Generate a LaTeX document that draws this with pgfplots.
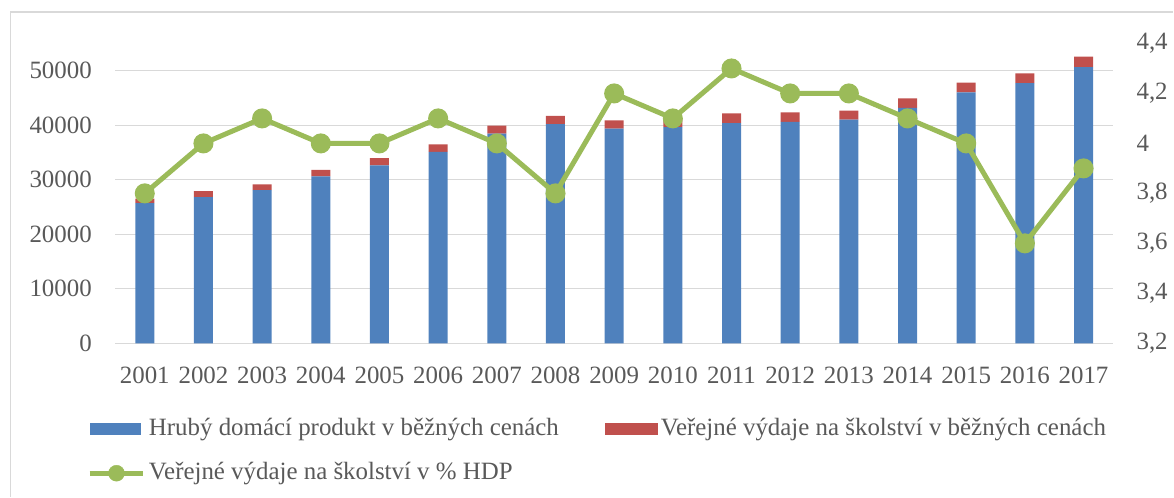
\documentclass[border=0pt]{standalone}
\usepackage{pgfplots}
\pgfplotsset{compat=1.18}
\usepackage{fontspec}
\setmainfont{Liberation Serif}
\definecolor{txt}{HTML}{595959}
\definecolor{cblue}{HTML}{4F81BD}
\definecolor{cred}{HTML}{C0504D}
\definecolor{cgreen}{HTML}{9BBB59}
\definecolor{cgrid}{HTML}{D9D9D9}
\pgfplotstableread{
x gdp edu
0 25700 850
1 26800 1100
2 28080 1090
3 30630 1200
4 32630 1330
5 35110 1400
6 38460 1450
7 40210 1530
8 39370 1510
9 39660 1590
10 40390 1770
11 40640 1700
12 41010 1690
13 43190 1750
14 46040 1760
15 47740 1760
16 50660 1930
}\bars
\pgfplotstableread{
x pct
0 3.8
1 4.0
2 4.1
3 4.0
4 4.0
5 4.1
6 4.0
7 3.8
8 4.2
9 4.1
10 4.3
11 4.2
12 4.2
13 4.1
14 4.0
15 3.6
16 3.9
}\line
\begin{document}
\begin{tikzpicture}[x=1bp,y=1bp]
\path (0,0) rectangle (1174,497);
\draw[cgrid, line width=1.3bp] (10.5,0) -- (10.5,485) -- (1174,485);
\begin{axis}[
  at={(115.5bp,153.5bp)}, anchor=south west, scale only axis,
  width=998bp, height=300bp,
  xmin=-0.5, xmax=16.5, ymin=0, ymax=55000,
  ytick={0,10000,20000,30000,40000,50000},
  xtick={0,...,16},
  xticklabels={2001,2002,2003,2004,2005,2006,2007,2008,2009,2010,2011,2012,2013,2014,2015,2016,2017},
  axis line style={draw=none}, major tick length=0pt,
  ymajorgrids, grid style={cgrid, line width=1.3bp},
  ybar stacked, bar width=19bp,
  scaled y ticks=false,
  tick label style={font=\fontsize{25}{25}\selectfont, text=txt, inner sep=0pt},
  yticklabel style={/pgf/number format/assume math mode=true, /pgf/number format/1000 sep={}, anchor=east, xshift=-23.5bp},
  xticklabel style={anchor=north, yshift=-23bp},
  legend columns=2,
  legend cell align=left,
  legend style={draw=none, fill=none, inner sep=0pt, outer sep=0pt,
    at={(-0.0285,-0.25)}, anchor=north west,
    font=\fontsize{25}{25}\selectfont, text=txt,
    nodes={inner sep=0pt, text depth=5bp, text height=17bp},
    /tikz/every odd column/.append style={column sep=3bp},
    /tikz/every even column/.append style={column sep=46bp},
    row sep=22bp},
]
\addplot[fill=cblue, draw=none, legend image code/.code={\fill[cblue] (0bp,-6bp) rectangle (52bp,6bp);}] table[x=x, y=gdp] {\bars};
\addlegendentry{Hrubý domácí produkt v běžných cenách}
\addplot[fill=cred, draw=none, legend image code/.code={\fill[cred] (0bp,-6bp) rectangle (53bp,6bp);}] table[x=x, y=edu] {\bars};
\addlegendentry{Veřejné výdaje na školství v běžných cenách}
\addlegendimage{legend image code/.code={\draw[cgreen, line width=5bp] (0bp,0bp) -- (54bp,0bp); \fill[cgreen] (27bp,0bp) circle (8bp);}}
\addlegendentry{Veřejné výdaje na školství v \% HDP}
\end{axis}
\begin{axis}[
  at={(115.5bp,153.5bp)}, anchor=south west, scale only axis,
  width=998bp, height=300bp,
  xmin=-0.5, xmax=16.5, ymin=3.2, ymax=4.4,
  axis y line*=right, axis x line=none,
  axis line style={draw=none}, major tick length=0pt,
  ytick={3.2,3.4,3.6,3.8,4.0,4.2,4.4},
  yticklabels={{3,2},{3,4},{3,6},{3,8},{4},{4,2},{4,4}},
  tick label style={font=\fontsize{25}{25}\selectfont, text=txt, inner sep=0pt},
  yticklabel style={anchor=west, xshift=23.5bp},
]
\addplot[cgreen, line width=5bp, mark=*, mark size=7.5bp, mark options={fill=cgreen, draw=none}] table[x=x, y=pct] {\line};
\end{axis}
\end{tikzpicture}
\end{document}
